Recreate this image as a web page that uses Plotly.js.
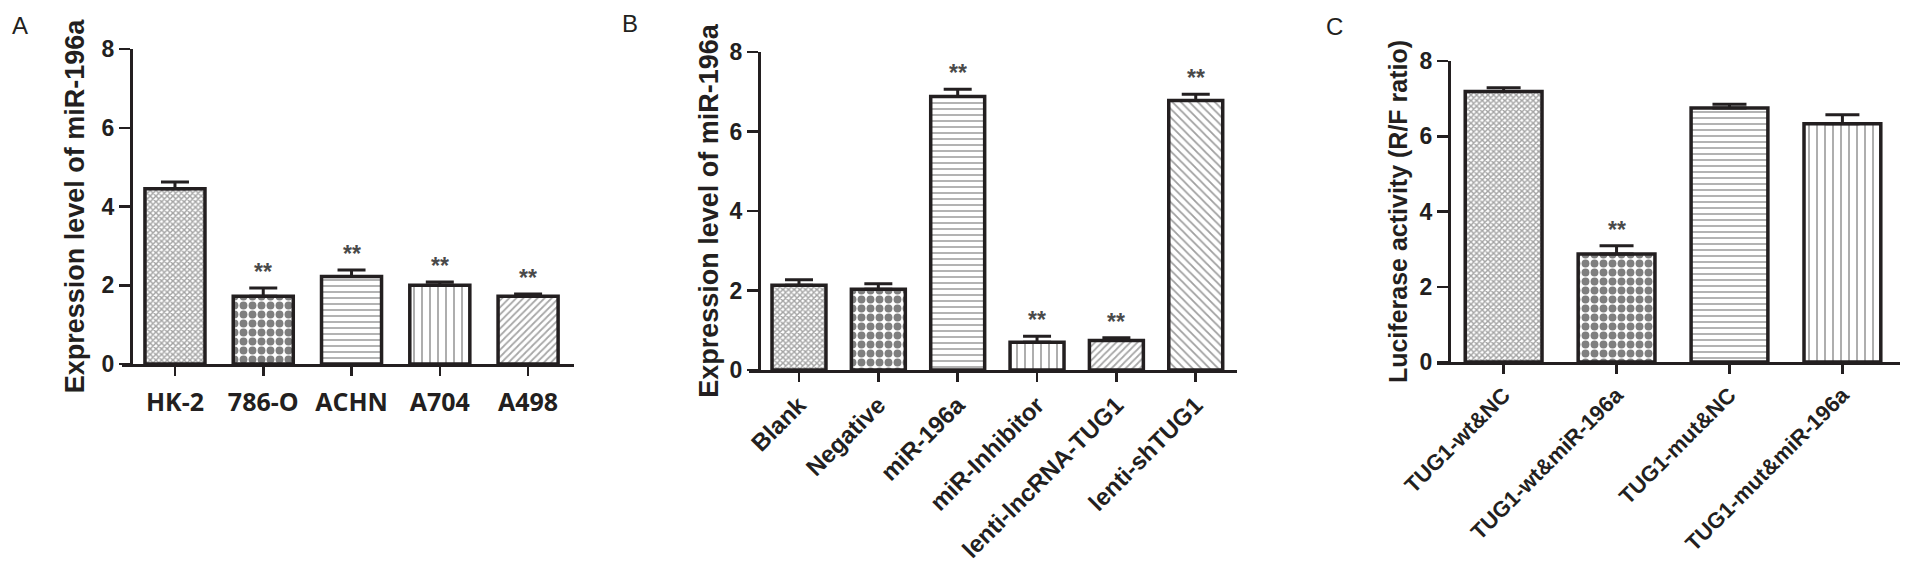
<!DOCTYPE html>
<html>
<head>
<meta charset="utf-8">
<script src="https://cdn.plot.ly/plotly-3.0.1.min.js"></script>
<style>
  html, body { margin: 0; padding: 0; background: #fff; }
  #chart { width: 1913px; height: 568px; }
</style>
</head>
<body>
<div id="chart"></div>
<script>
// ---------- Panel A ----------
const catsA = ['HK-2', '786-O', 'ACHN', 'A704', 'A498'];
const valA  = [4.45, 1.72, 2.22, 2.00, 1.72];
const errA  = [0.17, 0.21, 0.17, 0.08, 0.06];
const sigA  = ['', '**', '**', '**', '**'];

// ---------- Panel B ----------
const catsB = ['Blank', 'Negative', 'miR-196a', 'miR-Inhibitor', 'lenti-lncRNA-TUG1', 'lenti-shTUG1'];
const valB  = [2.13, 2.03, 6.88, 0.70, 0.74, 6.78];
const errB  = [0.14, 0.14, 0.18, 0.15, 0.07, 0.16];
const sigB  = ['', '', '**', '**', '**', '**'];

// ---------- Panel C ----------
const catsC = ['TUG1-wt&NC', 'TUG1-wt&miR-196a', 'TUG1-mut&NC', 'TUG1-mut&miR-196a'];
const valC  = [7.19, 2.87, 6.75, 6.33];
const errC  = [0.10, 0.22, 0.10, 0.24];
const sigC  = ['', '**', '', ''];

const yTicks = [0, 2, 4, 6, 8];
const panelLetters = ['A', 'B', 'C'];
const yTitleAB = 'Expression level of miR-196a';
const yTitleC  = 'Luciferase activity (R/F ratio)';

// fill styles (pattern per bar)
const PAT = {
  fine:   {shape: 'x', size: 4, solidity: 0.6, fg: '#4a4a4a'},
  dots:   {shape: '.', size: 9, solidity: 0.6, fg: '#000000'},
  hline:  {shape: '-', size: 6, solidity: 0.25, fg: '#333333'},
  vline:  {shape: '|', size: 8, solidity: 0.2,  fg: '#333333'},
  slash:  {shape: '/', size: 5, solidity: 0.35, fg: '#505050'},
  bslash: {shape: '\\', size: 6, solidity: 0.3, fg: '#404040'}
};
const patA = ['fine', 'dots', 'hline', 'vline', 'slash'];
const patB = ['fine', 'dots', 'hline', 'vline', 'slash', 'bslash'];
const patC = ['fine', 'dots', 'hline', 'vline'];

const W = 1913, H = 568;
const ink = '#231f20';

function barTrace(cats, vals, errs, pats, xa, ya, capw) {
  return {
    type: 'bar', x: cats, y: vals, xaxis: xa, yaxis: ya, width: 0.68,
    marker: {
      color: 'white',
      line: {color: ink, width: 3.5},
      pattern: {
        shape: pats.map(p => PAT[p].shape),
        size: pats.map(p => PAT[p].size),
        solidity: pats.map(p => PAT[p].solidity),
        fgcolor: pats.map(p => PAT[p].fg),
        bgcolor: 'white',
        fillmode: 'overlay'
      }
    },
    error_y: {type: 'data', symmetric: false, array: errs, arrayminus: errs.map(() => 0),
              color: ink, thickness: 3, width: capw},
    hoverinfo: 'x+y', showlegend: false
  };
}

function starAnn(cats, vals, errs, sig, xa, ya) {
  const out = [];
  cats.forEach((c, i) => {
    if (sig[i]) out.push({
      x: c, y: vals[i] + errs[i], xref: xa, yref: ya, text: sig[i],
      showarrow: false, yanchor: 'bottom', yshift: 1,
      font: {family: 'Liberation Sans, Arial', size: 23, color: '#4a4a4a', weight: 'bold'}
    });
  });
  return out;
}

const px = v => v / W;
const py = v => 1 - v / H;

const yBase = {
  range: [0, 8], tickvals: yTicks, ticks: 'outside', ticklen: 11, tickwidth: 2.5,
  tickcolor: ink, showline: true, linecolor: ink, linewidth: 2.5, showgrid: false,
  zeroline: false, anchor: 'free', fixedrange: true,
  tickfont: {family: 'Liberation Sans, Arial', size: 23, color: ink, weight: 'bold'}
};
const xBase = {
  type: 'category', ticks: 'outside', ticklen: 9, tickwidth: 2.5, tickcolor: ink,
  showline: true, linecolor: ink, linewidth: 2.5, showgrid: false, zeroline: false,
  fixedrange: true
};

const layout = {
  width: W, height: H, margin: {l: 0, r: 0, t: 0, b: 0},
  paper_bgcolor: 'white', plot_bgcolor: 'rgba(0,0,0,0)', showlegend: false,
  xaxis: Object.assign({}, xBase, {
    domain: [px(122), px(574)], range: [-0.6, 4.52], anchor: 'y',
    tickfont: {family: 'Open Sans', size: 25, color: ink, weight: 'bold'},
    ticklabelstandoff: 5
  }),
  yaxis: Object.assign({}, yBase, {
    domain: [py(364), py(49)], position: px(131),
    title: {text: yTitleAB, standoff: 8,
            font: {family: 'Liberation Sans, Arial', size: 27, color: ink, weight: 'bold'}}
  }),
  xaxis2: Object.assign({}, xBase, {
    domain: [px(749), px(1237)], range: [-0.63, 5.52], anchor: 'y2', tickangle: -45,
    tickfont: {family: 'Liberation Sans, Arial', size: 24, color: ink, weight: 'bold'}
  }),
  yaxis2: Object.assign({}, yBase, {
    domain: [py(370), py(52)], position: px(759),
    title: {text: yTitleAB, standoff: 2,
            font: {family: 'Liberation Sans, Arial', size: 27, color: ink, weight: 'bold'}}
  }),
  xaxis3: Object.assign({}, xBase, {
    domain: [px(1437), px(1900)], range: [-0.59, 3.51], anchor: 'y3', tickangle: -45,
    tickfont: {family: 'Liberation Sans, Arial', size: 22, color: ink, weight: 'bold'}
  }),
  yaxis3: Object.assign({}, yBase, {
    domain: [py(362), py(61)], position: px(1449),
    title: {text: yTitleC, standoff: 4,
            font: {family: 'Liberation Sans, Arial', size: 25, color: ink, weight: 'bold'}}
  }),
  annotations: [].concat(
    starAnn(catsA, valA, errA, sigA, 'x', 'y'),
    starAnn(catsB, valB, errB, sigB, 'x2', 'y2'),
    starAnn(catsC, valC, errC, sigC, 'x3', 'y3'),
    [
      {text: panelLetters[0], x: px(20), y: py(25)},
      {text: panelLetters[1], x: px(630), y: py(23)},
      {text: panelLetters[2], x: px(1334), y: py(27)}
    ].map(a => Object.assign(a, {xref: 'paper', yref: 'paper', showarrow: false,
      xanchor: 'center', yanchor: 'middle',
      font: {family: 'Liberation Sans, Arial', size: 24, color: ink}}))
  )
};

const data = [
  barTrace(catsA, valA, errA, patA, 'x', 'y', 14),
  barTrace(catsB, valB, errB, patB, 'x2', 'y2', 14),
  barTrace(catsC, valC, errC, patC, 'x3', 'y3', 17)
];

Plotly.newPlot('chart', data, layout, {displayModeBar: false, staticPlot: true});
</script>
</body>
</html>
